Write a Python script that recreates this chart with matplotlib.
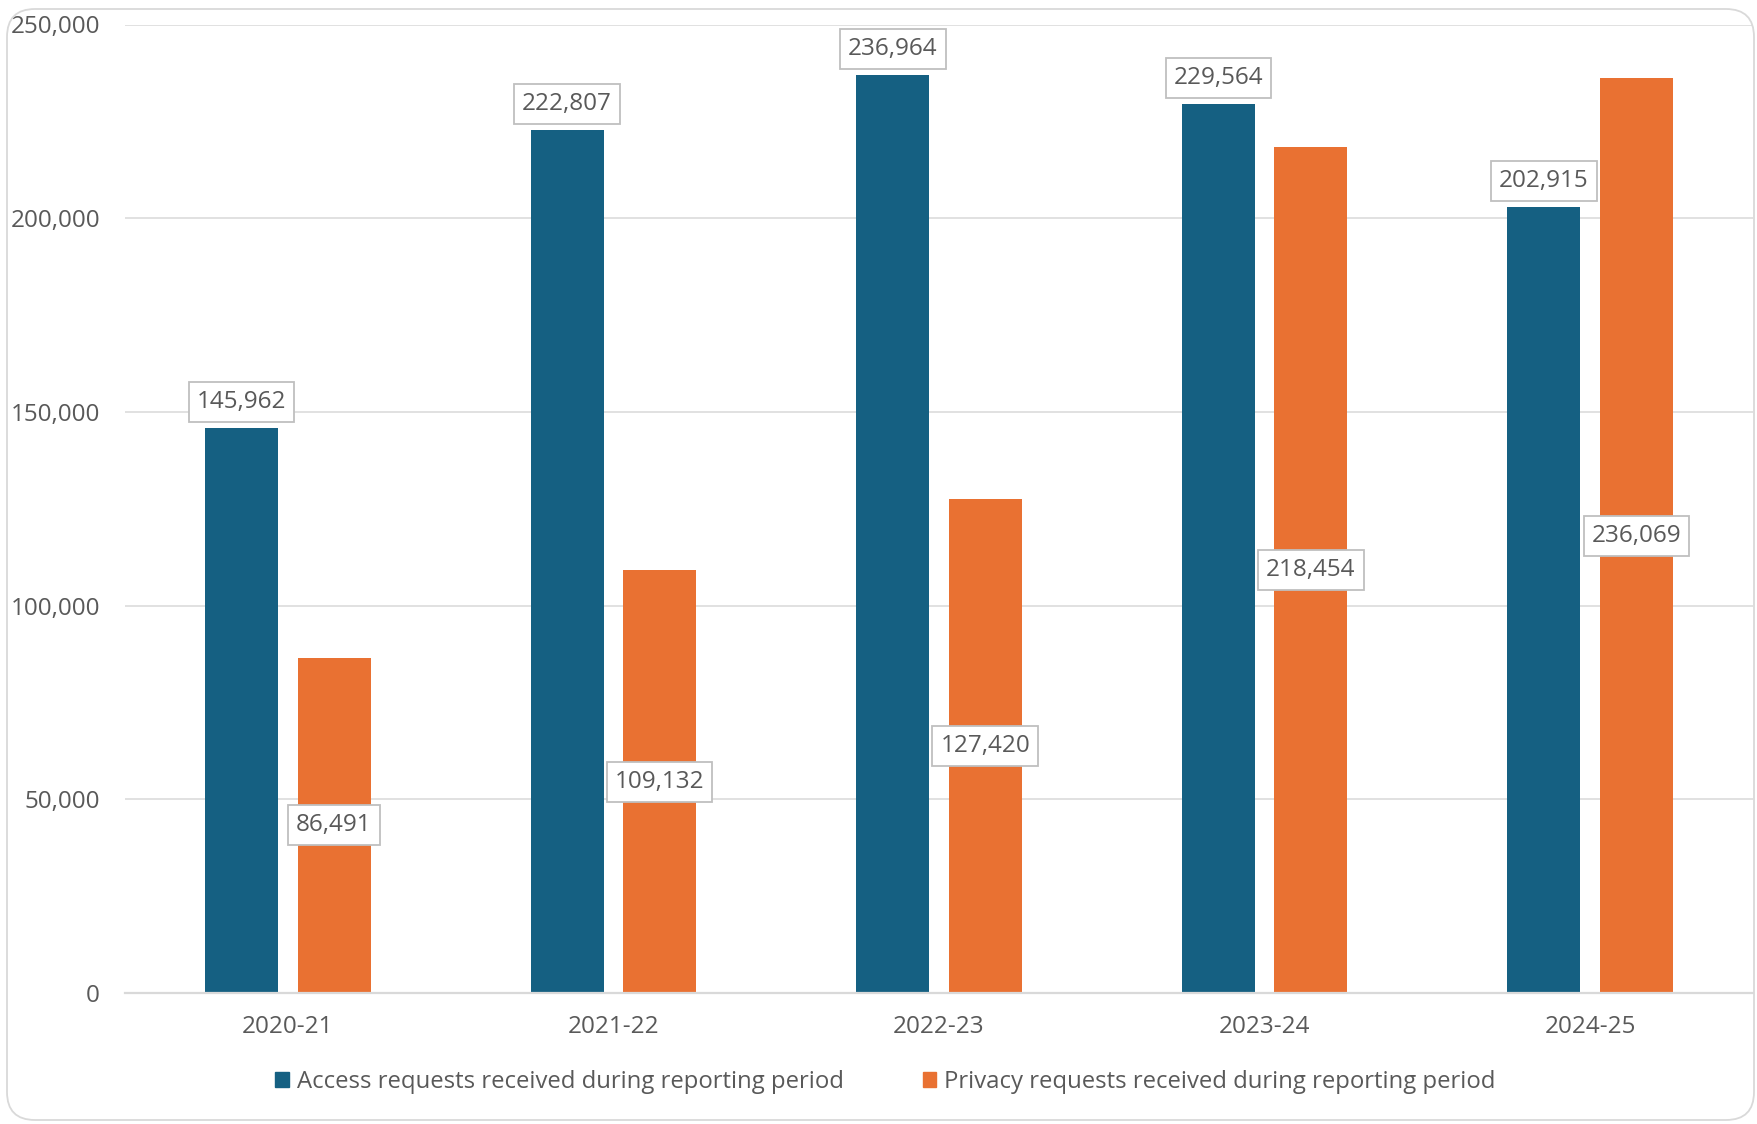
import numpy as np
import matplotlib
matplotlib.use("Agg")
import matplotlib.pyplot as plt
from matplotlib.patches import FancyBboxPatch, Patch

plt.rcParams['font.family'] = ['Open Sans', 'DejaVu Sans']

# data
periods = ["2020-21", "2021-22", "2022-23", "2023-24", "2024-25"]
access_requests = [145962, 222807, 236964, 229564, 202915]
privacy_requests = [86491, 109132, 127420, 218454, 236069]
y_ticks = [0, 50000, 100000, 150000, 200000, 250000]

access_label = "Access requests received during reporting period"
privacy_label = "Privacy requests received during reporting period"

BLUE = "#156082"
ORANGE = "#E97132"
GRID = "#d9d9d9"
TEXT = "#595959"
FS = 17.5

fig = plt.figure(figsize=(17.57, 11.24), dpi=100)
ax = fig.add_axes([125 / 1757, 1 - 993 / 1124, (1753 - 125) / 1757, (993 - 24.5) / 1124])

x = np.arange(len(periods))
width = 0.224
offset = 0.142
ax.bar(x - offset, access_requests, width=width, color=BLUE, zorder=2)
ax.bar(x + offset, privacy_requests, width=width, color=ORANGE, zorder=2)

box = dict(boxstyle="square,pad=0.33", fc="white", ec="#bfbfbf", lw=1.3)
# access labels sit just above the bars
for xi, v in zip(x, access_requests):
    ax.annotate(f"{v:,}", xy=(xi - offset, v), xytext=(0, 18.5), textcoords="offset points",
                ha="center", va="center", fontsize=FS, color=TEXT, bbox=box, zorder=4)
# privacy labels sit in the middle of the bars
for xi, v in zip(x, privacy_requests):
    ax.text(xi + offset, v / 2, f"{v:,}", ha="center", va="center", fontsize=FS,
            color=TEXT, bbox=box, zorder=4)

ax.set_xlim(-0.5, len(periods) - 0.5)
ax.set_ylim(0, 250000)
ax.set_yticks(y_ticks)
ax.set_yticklabels([f"{t:,}" for t in y_ticks])
ax.set_xticks(x)
ax.set_xticklabels(periods)
ax.tick_params(axis="both", length=0, labelsize=FS, labelcolor=TEXT)
ax.tick_params(axis="y", pad=18)
ax.tick_params(axis="x", pad=16)

ax.yaxis.grid(True, color=GRID, lw=1.1)
ax.set_axisbelow(True)
for side in ["top", "right", "left"]:
    ax.spines[side].set_visible(False)
ax.spines["bottom"].set_color(GRID)
ax.spines["bottom"].set_linewidth(1.6)

handles = [Patch(color=BLUE), Patch(color=ORANGE)]
fig.legend(handles, [access_label, privacy_label], loc="center", bbox_to_anchor=(0.504, 1 - 1082 / 1124),
           ncol=2, frameon=False, fontsize=17.2, labelcolor=TEXT, handlelength=0.55, handleheight=0.55,
           handletextpad=0.35, columnspacing=3.3)

# rounded outer border of the chart area
border = FancyBboxPatch((7, 4), 1747, 1111, boxstyle="round,pad=0,rounding_size=28",
                        fc="none", ec=GRID, lw=1.3, transform=None)
fig.patches.append(border)

fig.savefig("out.png", dpi=100)
